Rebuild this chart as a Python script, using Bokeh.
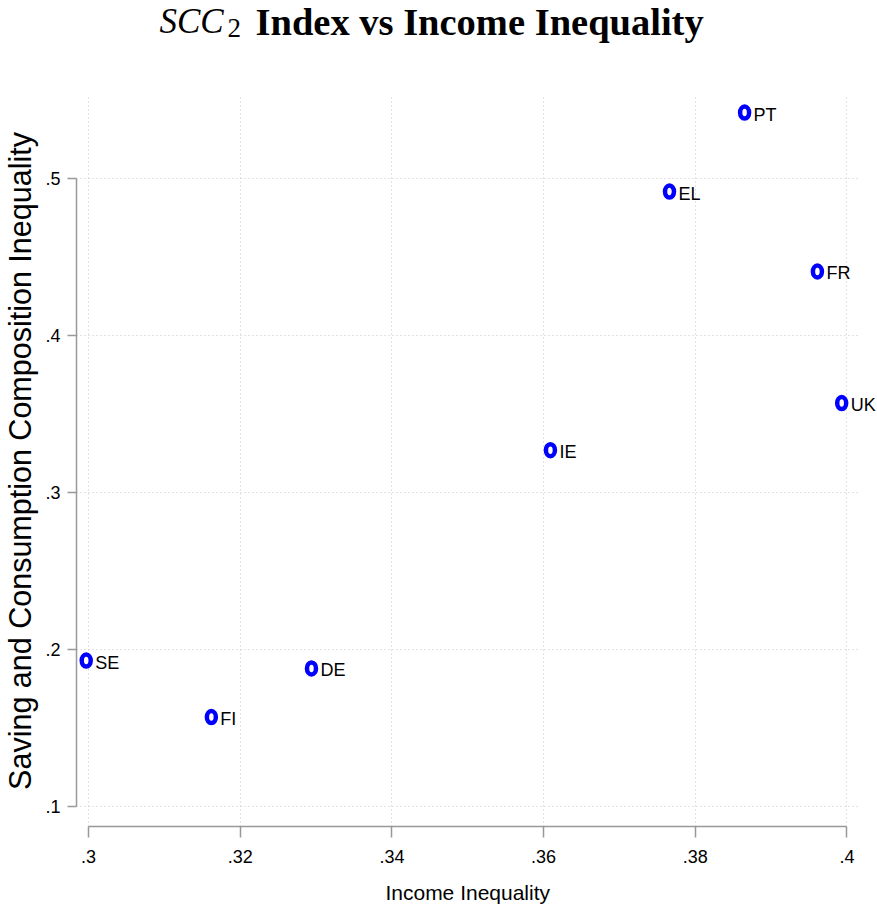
from bokeh.plotting import figure
from bokeh.layouts import column
from bokeh.models import ColumnDataSource, Range1d, FixedTicker
from bokeh.embed import file_html
from bokeh.resources import INLINE
from bokeh.core.properties import value

# ---- data ----
countries = ["PT", "EL", "FR", "UK", "IE", "SE", "DE", "FI"]
income_inequality = [0.3865, 0.3766, 0.3961, 0.3993, 0.3609, 0.2997, 0.3294, 0.3162]
scc2_index = [0.542, 0.4917, 0.4408, 0.357, 0.327, 0.193, 0.188, 0.157]

x_ticks = [0.30, 0.32, 0.34, 0.36, 0.38, 0.40]
x_tick_labels = [".3", ".32", ".34", ".36", ".38", ".4"]
y_ticks = [0.1, 0.2, 0.3, 0.4, 0.5]
y_tick_labels = [".1", ".2", ".3", ".4", ".5"]

title_parts = ["SCC", "2", "Index vs Income Inequality"]

SANS = "Liberation Sans"
SERIF = "Liberation Serif"

LEFT = 69
FRAME_W = 800

# ---- title strip (separate figure; pixel coordinate system) ----
t = figure(frame_width=FRAME_W, frame_height=95, output_backend="svg", toolbar_location=None,
           x_range=Range1d(LEFT, LEFT + FRAME_W), y_range=Range1d(95, 0),
           x_axis_location=None, y_axis_location=None,
           min_border_left=LEFT, min_border_right=0, min_border_top=0, min_border_bottom=0)
t.title.visible = False
t.outline_line_color = None
t.xgrid.visible = False
t.ygrid.visible = False
t.text(x=[152], y=[21], text=[title_parts[0]], text_font=value(SERIF),
       text_font_style="italic", text_font_size="35px", text_color="black",
       text_baseline="alphabetic", text_align="left")
t.text(x=[220], y=[27], text=[title_parts[1]], text_font=value(SERIF),
       text_font_size="27px", text_color="black",
       text_baseline="alphabetic", text_align="left")
t.text(x=[248], y=[21], text=[title_parts[2]], text_font=value(SERIF),
       text_font_style="bold", text_font_size="38.5px", text_color="black",
       text_baseline="alphabetic", text_align="left")

# ---- main scatter ----
src = ColumnDataSource(dict(x=income_inequality, y=scc2_index, label=countries))

x_lo, x_hi = 0.29842, 0.40389
p = figure(frame_width=FRAME_W, frame_height=731, output_backend="svg", toolbar_location=None,
           x_range=Range1d(x_lo, x_hi), y_range=Range1d(0.0873, 0.5529),
           min_border_left=LEFT, min_border_right=0, min_border_top=0,
           min_border_bottom=79)
p.title.visible = False
p.outline_line_color = None
p.background_fill_color = "white"
p.border_fill_color = "white"

for g, ticks in ((p.xgrid, x_ticks), (p.ygrid, y_ticks)):
    g.ticker = FixedTicker(ticks=ticks)
    g.grid_line_color = "#c4c4c4"
    g.grid_line_dash = "1 3"
    g.grid_line_width = 1
try:
    p.ygrid.cross_bounds = (x_lo, 0.40165)
except Exception:
    pass

p.xaxis.ticker = FixedTicker(ticks=x_ticks)
p.yaxis.ticker = FixedTicker(ticks=y_ticks)
p.xaxis.major_label_overrides = dict(zip(x_ticks, x_tick_labels))
p.yaxis.major_label_overrides = dict(zip(y_ticks, y_tick_labels))
p.xaxis.bounds = (x_ticks[0], x_ticks[-1])
p.yaxis.bounds = (y_ticks[0], y_ticks[-1])
for ax in (p.xaxis, p.yaxis):
    ax.axis_line_color = "#999999"
    ax.axis_line_width = 1.5
    ax.major_tick_line_color = "#999999"
    ax.major_tick_line_width = 1.5
    ax.major_tick_in = 0
    ax.minor_tick_line_color = None
    ax.major_label_text_font = SANS
    ax.major_label_text_font_size = "18px"
    ax.major_label_text_color = "black"
    ax.axis_label_text_font_style = "normal"
    ax.axis_label_text_color = "black"
p.xaxis.major_tick_out = 11
p.yaxis.major_tick_out = 9
p.xaxis.major_label_standoff = 12
p.yaxis.major_label_standoff = 7
p.yaxis.major_label_orientation = "horizontal"

# trailing no-break spaces re-center the label on the gridded area (frame is wider on the right)
p.xaxis.axis_label = "Income Inequality" + "\u00a0" * 3
p.xaxis.axis_label_text_font = SANS
p.xaxis.axis_label_text_font_size = "21px"
p.xaxis.axis_label_standoff = 15

p.yaxis.axis_label = "Saving and Consumption Composition Inequality"
p.yaxis.axis_label_text_font = SANS
p.yaxis.axis_label_text_font_size = "30.5px"
p.yaxis.axis_label_standoff = 5

p.ellipse(x="x", y="y", width=9, height=12, width_units="screen", height_units="screen",
          source=src, fill_color="white", line_color="#0000ff", line_width=4.5)
p.text(x="x", y="y", text="label", source=src, x_offset=9, y_offset=2,
       text_font=value(SANS), text_font_size="18px", text_color="black",
       text_baseline="middle", text_align="left")

layout = column(t, p, spacing=0)
open("out.html", "w").write(file_html(layout, INLINE))
